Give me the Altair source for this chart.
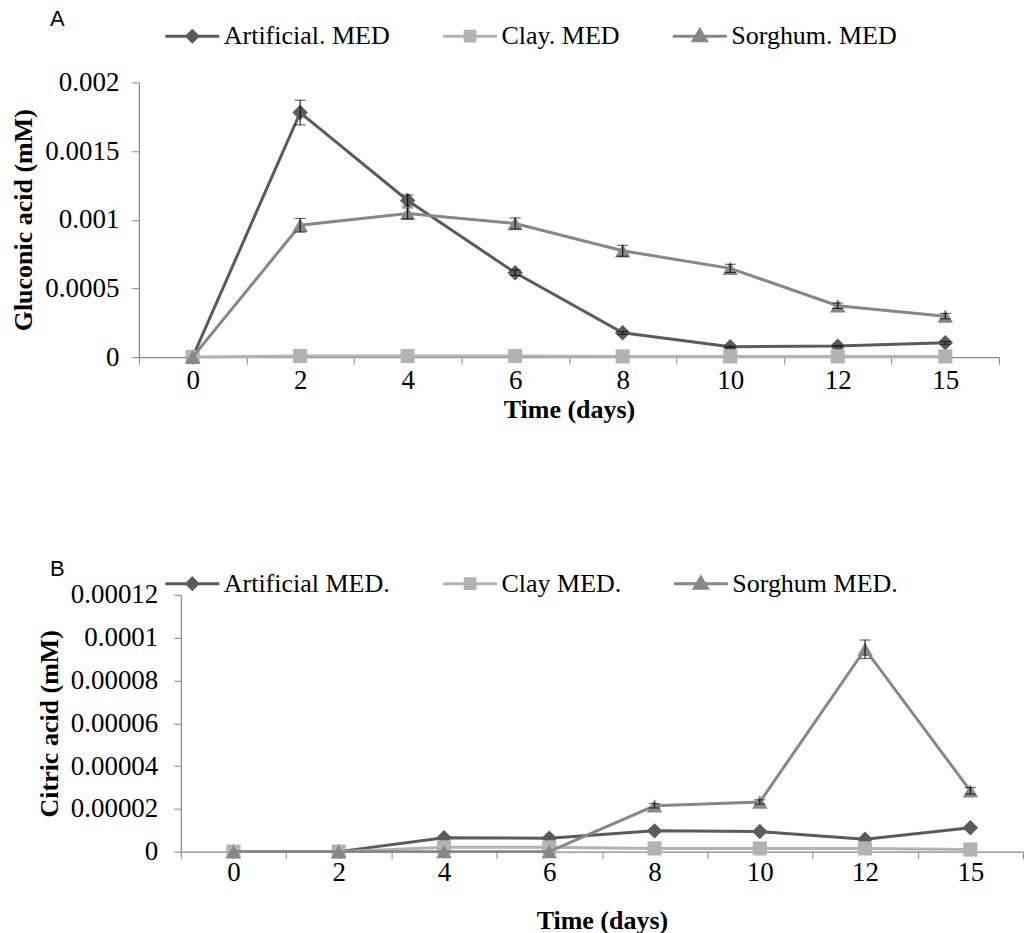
import altair as alt
import pandas as pd

days = ["0", "2", "4", "6", "8", "10", "12", "15"]

# Panel A: gluconic acid (mM)
names_a = ["Artificial. MED", "Clay. MED", "Sorghum. MED"]
glu_art = [0.0, 0.00178, 0.00114, 0.000614, 0.000177, 0.000075, 0.00008, 0.000104]
glu_art_err = [0.0, 0.00009, 0.00004, 0.00002, 0.00001, 0.000005, 0.000005, 0.00001]
glu_clay = [0.0, 0.000008, 0.000008, 0.000008, 0.000005, 0.000005, 0.000005, 0.000005]
glu_clay_err = [0.0, 0.0, 0.0, 0.0, 0.0, 0.0, 0.0, 0.0]
glu_sor = [0.0, 0.00096, 0.001046, 0.000973, 0.000774, 0.000646, 0.000374, 0.000298]
glu_sor_err = [0.0, 0.00005, 0.00004, 0.00004, 0.00004, 0.00003, 0.00002, 0.00002]

# Panel B: citric acid (mM)
names_b = ["Artificial MED.", "Clay MED.", "Sorghum MED."]
cit_art = [0.0, 0.0, 6.5e-6, 6.2e-6, 9.7e-6, 9.4e-6, 5.8e-6, 1.12e-5]
cit_art_err = [0.0, 0.0, 0.0, 0.0, 0.0, 0.0, 0.0, 0.0]
cit_clay = [0.0, 0.0, 2.0e-6, 2.0e-6, 1.5e-6, 1.5e-6, 1.5e-6, 1.0e-6]
cit_clay_err = [0.0, 0.0, 0.0, 0.0, 0.0, 0.0, 0.0, 0.0]
cit_sor = [0.0, 0.0, 0.0, 0.0, 2.14e-5, 2.32e-5, 9.46e-5, 2.84e-5]
cit_sor_err = [0.0, 0.0, 0.0, 0.0, 1.0e-6, 1.0e-6, 4.3e-6, 1.5e-6]

colors = ["#5b5b5b", "#b3b3b3", "#878787"]
shapes = ["diamond", "square", "triangle-up"]
point_sizes = [240, 200, 240]
legend_paths = [
    "M-1,0H1M0,-0.2L0.2,0L0,0.2L-0.2,0Z",
    "M-1,0H1M-0.18,-0.18H0.18V0.18H-0.18Z",
    "M-1,0H1M0,-0.24L0.24,0.17L-0.24,0.17Z",
]

SERIF = "Liberation Serif, Times New Roman, DejaVu Serif, serif"
AXIS_GRAY = "#868686"


def make_df(names, vals, errs):
    rows = []
    for name, v, e in zip(names, vals, errs):
        for d, y, er in zip(days, v, e):
            rows.append({"day": d, "series": name, "value": y, "err": er,
                         "lo": y - er, "hi": y + er})
    return pd.DataFrame(rows)


def panel(df, names, ymax, yvals, ytitle, letter, width, xrange, yoffset,
          height, label_pad, legend_y, letter_y, xlabel_pad, xtitle_pad):
    xscale = alt.Scale(type="band", paddingInner=0, paddingOuter=0)
    if xrange is not None:
        xscale = alt.Scale(type="band", paddingInner=0, paddingOuter=0, range=xrange)
    xaxis = alt.Axis(
        title="Time (days)", labelAngle=0, tickBand="extent", tickSize=7,
        domainColor=AXIS_GRAY, tickColor=AXIS_GRAY, domainWidth=1.2,
        labelFont=SERIF, labelFontSize=27, labelColor="black",
        labelPadding=xlabel_pad,
        titleFont=SERIF, titleFontSize=26, titleFontWeight="bold",
        titleColor="black", titlePadding=xtitle_pad, grid=False,
    )
    yaxis_kw = dict(
        values=yvals, format="~f", grid=False, domainColor=AXIS_GRAY,
        tickColor=AXIS_GRAY, tickSize=7, domainWidth=1.2,
        labelFont=SERIF, labelFontSize=27, labelColor="black",
        labelPadding=label_pad, labelFlush=False, labelOverlap=False,
        title=ytitle, titleFont=SERIF, titleFontSize=26,
        titleFontWeight="bold", titleColor="black", titlePadding=8,
    )
    if yoffset:
        yaxis_kw["offset"] = yoffset
    yaxis = alt.Axis(**yaxis_kw)

    x_enc = alt.X("day:N", sort=days, scale=xscale, axis=xaxis, bandPosition=0.5)
    y_enc = alt.Y("value:Q", scale=alt.Scale(domain=[0, ymax], nice=False, zero=True),
                  axis=yaxis)

    layers = []
    for i, name in enumerate(names):
        sub = alt.Chart(df).transform_filter(alt.datum.series == name)
        layers.append(sub.mark_line(strokeWidth=3, color=colors[i]).encode(
            x=x_enc, y=y_enc))
        layers.append(sub.mark_point(filled=True, opacity=1, shape=shapes[i],
                                     size=point_sizes[i], color=colors[i]).encode(
            x=x_enc, y=y_enc))

    errdf = alt.Chart(df).transform_filter(alt.datum.err > 0)
    layers.append(errdf.mark_rule(color="black", strokeWidth=1).encode(
        x=x_enc, y="lo:Q", y2="hi:Q"))
    layers.append(errdf.mark_tick(color="black", thickness=1, size=11).encode(
        x=x_enc, y="hi:Q"))
    layers.append(errdf.mark_tick(color="black", thickness=1, size=11).encode(
        x=x_enc, y="lo:Q"))

    leg = alt.Legend(
        orient="none", legendX=25, legendY=legend_y, direction="horizontal",
        columns=3, title=None, labelFont=SERIF, labelFontSize=26,
        labelColor="black", symbolSize=2916, symbolStrokeWidth=3,
        columnPadding=46, labelOffset=3, padding=0, labelLimit=0,
        symbolOpacity=1,
    )
    legend_layer = alt.Chart(df).mark_point(
        filled=True, size=2916, strokeWidth=3, opacity=1
    ).encode(
        fill=alt.Fill("series:N", scale=alt.Scale(domain=names, range=colors), legend=leg),
        stroke=alt.Stroke("series:N", scale=alt.Scale(domain=names, range=colors), legend=leg),
        shape=alt.Shape("series:N", scale=alt.Scale(domain=names, range=legend_paths), legend=leg),
    ).transform_filter("false")
    layers.append(legend_layer)

    letter_layer = alt.Chart(alt.Data(values=[{"t": letter}])).mark_text(
        font="Liberation Sans, Arial, sans-serif", fontSize=22, align="left",
        baseline="alphabetic", color="black"
    ).encode(text="t:N", x=alt.value(-89), y=alt.value(letter_y))
    layers.append(letter_layer)

    return alt.layer(*layers).properties(width=width, height=height)


df_a = make_df(names_a, [glu_art, glu_clay, glu_sor], [glu_art_err, glu_clay_err, glu_sor_err])
df_b = make_df(names_b, [cit_art, cit_clay, cit_sor], [cit_art_err, cit_clay_err, cit_sor_err])

chart_a = panel(df_a, names_a, 0.002, [0, 0.0005, 0.001, 0.0015, 0.002],
                "Gluconic acid (mM)", "A", 861, None, 0, 275, 13, -75, -56, 3, 3)
chart_b = panel(df_b, names_b, 0.00012,
                [0, 0.00002, 0.00004, 0.00006, 0.00008, 0.0001, 0.00012],
                "Citric acid (mM)", "B", 885, [42, 885], -42, 257, 16, -40, -19, 1, 22)

chart = alt.vconcat(chart_a, chart_b, spacing=133).resolve_scale(
    fill="independent", stroke="independent", shape="independent",
    x="independent", y="independent"
).properties(
    padding={"left": 10, "top": 7, "right": 0, "bottom": 0},
    background="white",
).configure_view(strokeWidth=0)

chart.save("out.html", embed_options={"renderer": "svg", "actions": False})
